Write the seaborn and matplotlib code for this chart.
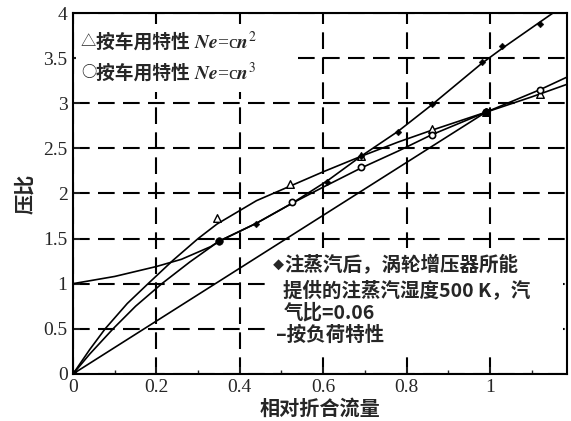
import matplotlib
matplotlib.use("Agg")
import matplotlib.pyplot as plt
from matplotlib.patches import Rectangle
import seaborn as sns

# Ne = c n^2 curve (triangles)
tri_x = [0, 0.04, 0.077, 0.13, 0.18, 0.24, 0.3, 0.345, 0.44, 0.52, 0.6, 0.69, 0.78, 0.86, 0.99, 1.1, 1.185]
tri_y = [0, 0.27, 0.5, 0.78, 1.0, 1.26, 1.5, 1.66, 1.92, 2.08, 2.24, 2.41, 2.57, 2.7, 2.9, 3.07, 3.21]
tri_mark_x = [0.345, 0.52, 0.69, 0.86, 0.99, 1.12]
tri_mark_y = [1.73, 2.1, 2.42, 2.71, 2.9, 3.1]

# Ne = c n^3 curve (circles)
circ_x = [0, 0.04, 0.096, 0.15, 0.213, 0.28, 0.35, 0.44, 0.525, 0.6, 0.69, 0.78, 0.86, 0.99, 1.12, 1.185]
circ_y = [0, 0.22, 0.5, 0.75, 1.0, 1.24, 1.47, 1.67, 1.89, 2.07, 2.28, 2.47, 2.65, 2.9, 3.15, 3.29]
circ_mark_x = [0.525, 0.69, 0.86, 0.99, 1.12]
circ_mark_y = [1.9, 2.29, 2.65, 2.9, 3.15]

# after steam injection (diamonds)
steam_x = [0, 0.1, 0.2, 0.26, 0.33, 0.35, 0.44, 0.525, 0.61, 0.69, 0.78, 0.86, 0.98, 1.03, 1.12, 1.17]
steam_y = [1.0, 1.08, 1.19, 1.27, 1.41, 1.47, 1.67, 1.89, 2.14, 2.41, 2.69, 2.98, 3.44, 3.61, 3.9, 4.06]
steam_mark_x = [0.44, 0.61, 0.69, 0.78, 0.86, 0.98, 1.03, 1.12]
steam_mark_y = [1.66, 2.13, 2.41, 2.68, 2.99, 3.46, 3.63, 3.88]
dot_x = [0, 0.35, 0.99]
dot_y = [0, 1.47, 2.9]

# load characteristic
load_x = [0, 0.99]
load_y = [0, 2.9]

x_ticks = [0, 0.2, 0.4, 0.6, 0.8, 1.0]
x_labels = ['0', '0.2', '0.4', '0.6', '0.8', '1']
y_ticks = [0, 0.5, 1, 1.5, 2, 2.5, 3, 3.5, 4]
y_labels = ['0', '0.5', '1', '1.5', '2', '2.5', '3', '3.5', '4']

sns.set_style("ticks")
plt.rcParams['font.family'] = ['Liberation Serif', 'Noto Sans CJK SC']
plt.rcParams['mathtext.fontset'] = 'stix'

fig = plt.figure(figsize=(5.71, 4.21), dpi=100)
ax = fig.add_axes([0.128, 0.112, 0.865, 0.857])

cjk = ['Noto Sans CJK SC', 'DejaVu Sans']

for xs, ys in [(tri_x, tri_y), (circ_x, circ_y), (steam_x, steam_y), (load_x, load_y)]:
    sns.lineplot(x=xs, y=ys, ax=ax, color='black', lw=1.2, sort=False, estimator=None, zorder=3)

sns.scatterplot(x=tri_mark_x, y=tri_mark_y, ax=ax, marker='^', s=30, color='white',
                edgecolor='black', linewidth=1.0, zorder=4)
sns.scatterplot(x=circ_mark_x, y=circ_mark_y, ax=ax, marker='o', s=20, color='white',
                edgecolor='black', linewidth=1.2, zorder=4)
sns.scatterplot(x=steam_mark_x, y=steam_mark_y, ax=ax, marker='D', s=12, color='black',
                edgecolor='black', zorder=5)
sns.scatterplot(x=dot_x, y=dot_y, ax=ax, marker='o', s=30, color='black',
                edgecolor='black', zorder=5)

ax.set_xlim(0, 1.185)
ax.set_ylim(0, 4)
ax.set_xticks(x_ticks)
ax.set_xticklabels(x_labels)
ax.set_yticks(y_ticks)
ax.set_yticklabels(y_labels)
ax.set_xticks([0.1, 0.3, 0.5, 0.7, 0.9, 1.1], minor=True)
ax.tick_params(axis='both', which='major', direction='in', length=5, width=1.2,
               labelsize=14, pad=4)
ax.tick_params(axis='x', which='minor', direction='in', length=3, width=1)
ax.grid(True, color='black', lw=1.5, linestyle=(0, (8, 4)))
ax.set_axisbelow(True)
for sp in ax.spines.values():
    sp.set_visible(True)
    sp.set_linewidth(1.5)
    sp.set_color('black')

ax.set_xlabel('相对折合流量', family=cjk, fontsize=14.5, weight='bold', labelpad=1)
ax.set_ylabel('压比', family=cjk, fontsize=14.5, weight='bold', labelpad=6)

# white blocks under the text, hiding the grid
ax.add_patch(Rectangle((0.006, 0.781), 0.44, 0.19, transform=ax.transAxes,
                       facecolor='white', edgecolor='none', zorder=1.5))
ax.add_patch(Rectangle((0.395, 0.068), 0.597, 0.28, transform=ax.transAxes,
                       facecolor='white', edgecolor='none', zorder=1.5))

s1 = ax.text(0.016, 0.92, '△', transform=ax.transAxes, family=cjk,
             fontsize=11, va='center', ha='left', zorder=6)
t1 = ax.annotate('按车用特性 ', xy=(1, 0.5), xycoords=s1, family=cjk,
                 fontsize=13.5, weight='bold', va='center', ha='left', zorder=6)
ax.annotate(r'$\mathbfit{Ne}$=c$\mathbfit{n}^2$', xy=(1, 0.5), xycoords=t1,
            va='center', ha='left', fontsize=14, zorder=6)
s2 = ax.text(0.016, 0.834, '○', transform=ax.transAxes, family=cjk,
             fontsize=11, va='center', ha='left', zorder=6)
t2 = ax.annotate('按车用特性 ', xy=(1, 0.5), xycoords=s2, family=cjk,
                 fontsize=13.5, weight='bold', va='center', ha='left', zorder=6)
ax.annotate(r'$\mathbfit{Ne}$=c$\mathbfit{n}^3$', xy=(1, 0.5), xycoords=t2,
            va='center', ha='left', fontsize=14, zorder=6)

d1 = ax.text(0.405, 0.302, '◆', transform=ax.transAxes, family=cjk, fontsize=8,
             va='center', ha='left', zorder=6)
ax.annotate('注蒸汽后，涡轮增压器所能', xy=(1, 0.5), xycoords=d1, family=cjk,
            fontsize=14, weight='bold', va='center', ha='left', zorder=6)
note_lines = ['提供的注蒸汽湿度500 K，汽', '气比=0.06', '–按负荷特性']
note_x = [0.426, 0.426, 0.41]
note_y = [0.233, 0.169, 0.108]
for txt, xx, yy in zip(note_lines, note_x, note_y):
    ax.text(xx, yy, txt, transform=ax.transAxes, family=cjk, fontsize=14,
            weight='bold', va='center', ha='left', zorder=6)

fig.savefig('out.png', dpi=100)
